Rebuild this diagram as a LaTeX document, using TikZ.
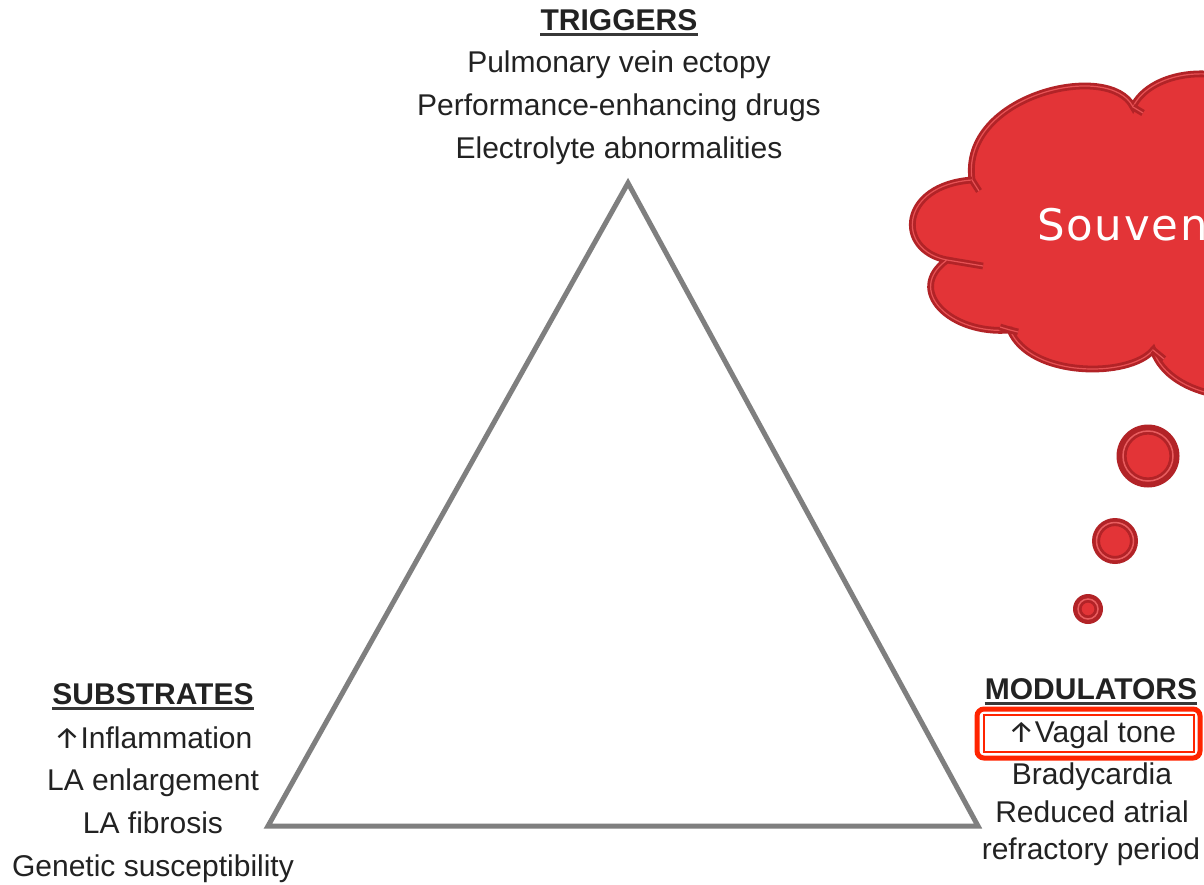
\documentclass[tikz,border=0pt]{standalone}
\usepackage{fontspec}
\usetikzlibrary{calc}
\setmainfont{Liberation Sans}
\newfontfamily\cloudfont[LetterSpace=4]{DejaVu Sans}
\newfontfamily\arrowfont{Fira Sans}
\newcommand{\uparr}{{\arrowfont\fontsize{30}{30}\selectfont ↑}}
\definecolor{txt}{HTML}{222222}
\definecolor{tri}{HTML}{7F7F7F}
\definecolor{cloudfill}{HTML}{E33437}
\definecolor{cloudedge}{HTML}{B22327}
\definecolor{hilite}{HTML}{FF2400}
\tikzset{
  lbl/.style={anchor=base, text=txt, font=\fontsize{30}{30}\selectfont, inner sep=0pt},
  head/.style={lbl, font=\fontsize{30}{30}\selectfont\bfseries},
  uline/.style={draw=txt!90, line width=2.6pt},
  edge/.style={draw=tri, line width=5pt, line join=miter},
  cloudline/.style={draw=cloudedge, line width=2.8pt, double=cloudfill!85!white, double distance=1.2pt},
}
\begin{document}
\begin{tikzpicture}[x=1pt, y=-1pt]
\useasboundingbox (0,0) rectangle (1204,884);
\fill[white] (0,0) rectangle (1204,884);

% triangle
\coordinate (top) at (628,183);
\coordinate (bl) at (268,826);
\coordinate (br) at (978,826);
\draw[edge] (top) -- (bl) -- (br) -- cycle;

% triggers
\node[head] (trig) at (619,30) {TRIGGERS};
\draw[uline] ($(trig.base west)+(0,4.5)$) -- ($(trig.base east)+(0,4.5)$);
\node[lbl] (t1) at (619,72) {Pulmonary vein ectopy};
\node[lbl] (t2) at (619,115) {Performance-enhancing drugs};
\node[lbl] (t3) at (619,158) {Electrolyte abnormalities};

% substrates
\node[head] (subs) at (153,704) {SUBSTRATES};
\draw[uline] ($(subs.base west)+(0,4.5)$) -- ($(subs.base east)+(0,4.5)$);
\node[lbl] (s1) at (153,748) {\uparr Inflammation};
\node[lbl] (s2) at (153,790) {LA enlargement};
\node[lbl] (s3) at (153,833) {LA fibrosis};
\node[lbl] (s4) at (153,876) {Genetic susceptibility};

% modulators
\node[head] (mods) at (1091,699) {MODULATORS};
\draw[uline] ($(mods.base west)+(0,4.5)$) -- ($(mods.base east)+(0,4.5)$);
\node[lbl] (m1) at (1092,742) {\uparr Vagal tone};
\node[lbl] (m2) at (1092,784) {Bradycardia};
\node[lbl] (m3) at (1092,822) {Reduced atrial};
\node[lbl] (m4) at (1091,859) {refractory period};

% highlight frame
\draw[hilite, line width=5pt, rounded corners=7pt] (977,709) rectangle (1200,758);
\draw[hilite, line width=1.6pt] (984,715) rectangle (1194,752);

% thought cloud
\begin{scope}
\clip (0,0) rectangle (1204,884);
\coordinate (j1) at (972,180);
\coordinate (j2) at (1133,107);
\coordinate (j5) at (1153,350);
\coordinate (j6) at (1010,330);
\coordinate (j7) at (947,260);
\path[fill=cloudfill] (j1) .. controls (960,95) and (1110,60) .. (j2)
  .. controls (1150,70) and (1230,55) .. (1290,110)
  -- (1300,380)
  .. controls (1260,410) and (1170,400) .. (j5)
  .. controls (1130,378) and (1030,378) .. (j6)
  .. controls (950,335) and (905,290) .. (j7)
  .. controls (895,250) and (900,185) .. (j1) -- cycle;
\draw[cloudline] (j1) .. controls (960,95) and (1110,60) .. (j2)
  .. controls (1150,70) and (1230,55) .. (1290,110);
\draw[cloudline] (1300,380) .. controls (1260,410) and (1170,400) .. (j5)
  .. controls (1130,378) and (1030,378) .. (j6)
  .. controls (950,335) and (905,290) .. (j7)
  .. controls (895,250) and (900,185) .. (j1);
% short inner arcs where the puffs meet
\draw[cloudline] (j1) -- ++(7,11);
\draw[cloudline] (j2) -- ++(10,6);
\draw[cloudline] (j7) -- ++(36,6);
\draw[cloudline] (j6) -- ++(-10,-3) (j6) -- ++(8,2);
\draw[cloudline] (j5) -- ++(11,9);
\node[anchor=base west, inner sep=0pt, text=white, font=\cloudfont\fontsize{43.5}{43.5}\selectfont] (say) at (1037,240) {Souvent};
\end{scope}

% trailing bubbles
\foreach \n/\cx/\cy/\r/\ri in {b1/1148/456/31.5/22, b2/1115/541/23/15.5, b3/1088/609/15/7} {
  \fill[cloudedge] (\cx,\cy) circle[radius=\r];
  \draw[cloudfill!80!white, line width=1.5pt] (\cx,\cy) circle[radius=\ri+3];
  \filldraw[fill=cloudfill, draw=cloudedge, line width=1.2pt] (\cx,\cy) coordinate (\n) circle[radius=\ri];
}
\end{tikzpicture}
\end{document}
